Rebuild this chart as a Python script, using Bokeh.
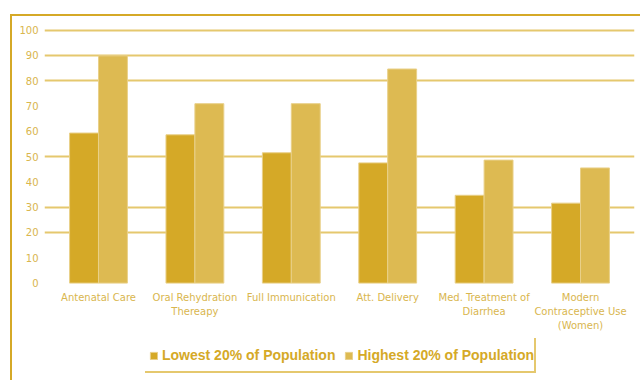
from bokeh.plotting import figure
from bokeh.models import (FactorRange, ColumnDataSource, Legend, LegendItem,
                          FixedTicker)
from bokeh.transform import dodge
from bokeh.embed import file_html
from bokeh.resources import INLINE

categories = ["Antenatal Care", "Oral Rehydration\nThereapy", "Full Immunication",
              "Att. Delivery", "Med. Treatment of\nDiarrhea",
              "Modern\nContraceptive Use\n(Women)"]
lowest = [59.3, 58.6, 51.5, 47.5, 34.7, 31.6]
highest = [89.8, 70.9, 70.9, 84.6, 48.6, 45.5]
series_names = ["Lowest 20% of Population", "Highest 20% of Population"]
y_ticks = [0, 10, 20, 30, 40, 50, 60, 70, 80, 90, 100]
grid_ticks = [20, 30, 50, 80, 90, 100]

C_LOW = "#D5A927"
C_HIGH = "#DDBA52"
C_GRID = "#E5C86E"
C_TEXT = "#D9B64E"

src = ColumnDataSource(dict(cat=categories, low=lowest, high=highest))

p = figure(x_range=FactorRange(*categories, range_padding=0.06, range_padding_units="absolute"),
           y_range=(-37.7, 101), width=640, height=380,
           frame_width=590, frame_height=351,
           min_border_left=44, min_border_right=6, min_border_top=27, min_border_bottom=2,
           output_backend="svg", toolbar_location=None)
p.outline_line_color = None
p.background_fill_color = None
p.border_fill_color = None

# decorative outer frame lines and legend shadow-border (CSS)
g = "linear-gradient({c},{c})"
p.styles = {
    "background": ", ".join([
        g.format(c=C_LOW) + " 10px 14px / 630px 2px no-repeat",
        g.format(c=C_LOW) + " 10px 14px / 2px 366px no-repeat",
        g.format(c=C_GRID) + " 534px 338px / 2px 35px no-repeat",
        g.format(c=C_GRID) + " 145px 371px / 391px 2px no-repeat",
        "white",
    ])
}

r1 = p.vbar(x=dodge("cat", -0.15, range=p.x_range), top="low", width=0.3, source=src,
            fill_color=C_LOW, line_color="#E9D089", line_width=1)
r2 = p.vbar(x=dodge("cat", 0.15, range=p.x_range), top="high", width=0.3, source=src,
            fill_color=C_HIGH, line_color="#E9D089", line_width=1)

p.xgrid.grid_line_color = None
p.ygrid.ticker = FixedTicker(ticks=grid_ticks)
p.ygrid.grid_line_color = C_GRID
p.ygrid.grid_line_width = 2

p.yaxis.ticker = FixedTicker(ticks=y_ticks)
p.xaxis.fixed_location = 0
for ax in (p.xaxis[0], p.yaxis[0]):
    ax.axis_line_color = None
    ax.major_tick_line_color = None
    ax.minor_tick_line_color = None
    ax.major_label_text_color = C_TEXT
    ax.major_label_text_font = "DejaVu Sans"
    ax.major_label_text_font_size = "10px"
p.yaxis.major_label_standoff = 0
p.xaxis.major_label_standoff = 3
p.xaxis.major_label_text_line_height = 1.25

legend = Legend(items=[LegendItem(label=series_names[0], renderers=[r1]),
                       LegendItem(label=series_names[1], renderers=[r2])],
                orientation="horizontal", location=(105, 15),
                label_text_font="Liberation Sans", label_text_font_style="bold",
                label_text_font_size="14px", label_text_color=C_LOW,
                label_height=16, glyph_width=9, glyph_height=9,
                label_standoff=4, spacing=9,
                border_line_color=None, background_fill_alpha=0,
                margin=0, padding=2)
p.add_layout(legend, "center")

open("out.html", "w").write(file_html(p, INLINE))
